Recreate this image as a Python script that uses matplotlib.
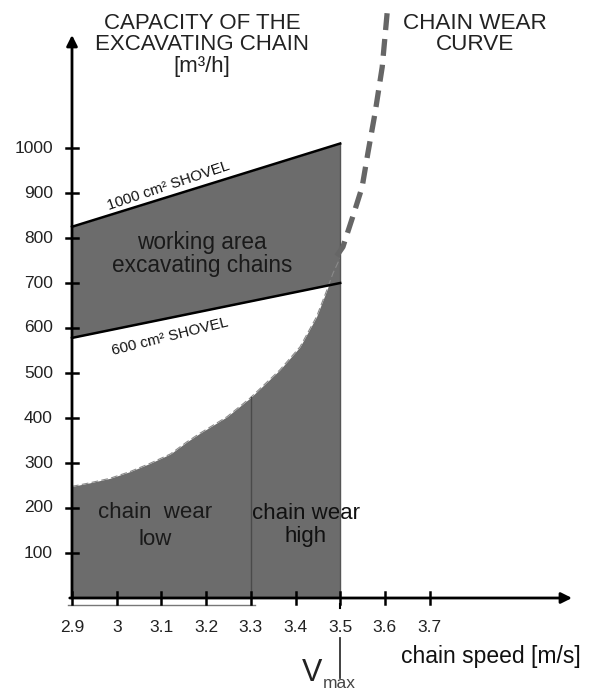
import matplotlib
matplotlib.use("Agg")
import matplotlib.pyplot as plt
import numpy as np

plt.rcParams['font.family'] = ['Liberation Sans', 'DejaVu Sans']

# ---- data ----
x_ticks = [2.9, 3.0, 3.1, 3.2, 3.3, 3.4, 3.5, 3.6, 3.7]
x_tick_labels = ['2.9', '3', '3.1', '3.2', '3.3', '3.4', '3.5', '3.6', '3.7']
y_ticks = [100, 200, 300, 400, 500, 600, 700, 800, 900, 1000]
y_tick_labels = ['100', '200', '300', '400', '500', '600', '700', '800', '900', '1000']

shovel_speed = [2.9, 3.5]
shovel_1000_capacity = [825, 1010]
shovel_600_capacity = [578, 700]

wear_speed = [2.9, 2.94, 2.985, 3.03, 3.074, 3.12, 3.157, 3.186, 3.247, 3.298,
              3.365, 3.41, 3.447, 3.47, 3.484, 3.5]
wear_capacity = [248, 256, 266, 281, 299, 320, 347, 366, 403, 444,
                 507, 558, 625, 684, 722, 756]

wear_dash_speed = [3.492, 3.506, 3.528, 3.549, 3.562, 3.578, 3.594, 3.605]
wear_dash_capacity = [760, 780, 847, 913, 989, 1078, 1180, 1300]

v_low_high = 3.3
v_max = 3.5
v_start = 2.9

# ---- figure ----
W, H = 595, 691
fig = plt.figure(figsize=(W / 100, H / 100), dpi=100)
ax = fig.add_axes([0, 0, 1, 1])
# pixel mapping: x_px = 72 + (x-2.9)*447 ; y_px(from top) = 598 - v*0.45
ax.set_xlim(2.9 - 72 / 447, 2.9 + (W - 72) / 447)
ax.set_ylim((598 - H) / 0.45, 598 / 0.45)
ax.axis('off')


def px(xp):
    return 2.9 + (xp - 72) / 447


def py(yp):
    return (598 - yp) / 0.45


fill_c = '#6c6c6c'

# working area between shovel lines
ax.fill_between(shovel_speed, shovel_600_capacity, shovel_1000_capacity,
                color=fill_c, lw=0, zorder=1)
# area under wear curve
ax.fill_between(wear_speed, 0, wear_capacity, color=fill_c, lw=0, zorder=1)
# faint dashed edge of the wear curve
ax.plot(wear_speed, wear_capacity, color='#8a8a8a', lw=0.8, dashes=(6, 3), zorder=2)

# shovel lines
ax.plot(shovel_speed, shovel_1000_capacity, color='black', lw=1.8, zorder=3)
ax.plot(shovel_speed, shovel_600_capacity, color='black', lw=1.8, zorder=3)

# right edge of area at vmax
ax.plot([v_max, v_max], [0, shovel_1000_capacity[1]], color='#555555', lw=1.0, zorder=2)

# separator at 3.3
ax.plot([v_low_high, v_low_high], [0, np.interp(v_low_high, wear_speed, wear_capacity)],
        color='#4a4a4a', lw=1.0, zorder=2)

# dashed wear curve continuation
ax.plot(wear_dash_speed, wear_dash_capacity, color='#666666', lw=3.8,
        dashes=(3.2, 1.7), zorder=3, dash_capstyle='butt')

# axes with arrows
y_top = py(35)
x_right = px(572)
ax.annotate('', xy=(v_start, y_top), xytext=(v_start, 0),
            arrowprops=dict(arrowstyle='-|>', color='black', lw=2.0,
                            mutation_scale=16, shrinkA=0, shrinkB=0), zorder=4)
ax.annotate('', xy=(x_right, 0), xytext=(v_start - 0.005, 0),
            arrowprops=dict(arrowstyle='-|>', color='black', lw=2.0,
                            mutation_scale=16, shrinkA=0, shrinkB=0), zorder=4)

# thin line below x axis
ax.plot([2.89, 3.31], [-16, -16], color='#777777', lw=1.0, zorder=2)

# y ticks
for v, lab in zip(y_ticks, y_tick_labels):
    ax.plot([v_start - 6 / 447, v_start + 6 / 447], [v, v], color='black', lw=1.8, zorder=4)
    ax.text(px(53), v, lab, ha='right', va='center', fontsize=12.5, color='#222222')

# x ticks
for x, lab in zip(x_ticks, x_tick_labels):
    ax.plot([x, x], [-14, 14], color='black', lw=1.8, zorder=4)
    ax.text(x, py(628), lab, ha='center', va='center', fontsize=12.5, color='#222222')

# vmax marker
ax.plot([v_max, v_max], [-14, -22], color='black', lw=1.5, zorder=4)
ax.plot([v_max, v_max], [py(638), py(678)], color='#333333', lw=1.3)
ax.text(px(312), py(673), 'V', ha='center', va='center', fontsize=22, color='#222222')
ax.text(px(339), py(683), 'max', ha='center', va='center', fontsize=12.5, color='#444444')

ax.text(px(491), py(657), 'chain speed [m/s]', ha='center',
        va='center', fontsize=16.5, color='#111111')

# titles
ax.text(px(202), py(45), 'CAPACITY OF THE\nEXCAVATING CHAIN\n[m³/h]',
        ha='center', va='center', fontsize=16, color='#222222', linespacing=1.03)
ax.text(px(475), py(34), 'CHAIN WEAR\nCURVE',
        ha='center', va='center', fontsize=16.2, color='#222222', linespacing=0.98)

# region labels
ax.text(px(202), py(254), 'working area\nexcavating chains',
        ha='center', va='center', fontsize=16.3, color='#1a1a1a', linespacing=0.97)
ax.text(px(155), py(526), 'chain  wear\nlow',
        ha='center', va='center', fontsize=16, color='#1a1a1a', linespacing=1.42)
ax.text(px(306), py(525), 'chain wear\nhigh',
        ha='center', va='center', fontsize=16, color='#111111', linespacing=1.17)

# shovel labels (rotated along the lines)
ax.text(px(168), py(186), '1000 cm² SHOVEL', ha='center', va='center',
        fontsize=10.8, rotation=18.5, rotation_mode='anchor', color='#111111')
ax.text(px(170), py(337), '600 cm² SHOVEL', ha='center', va='center',
        fontsize=10.8, rotation=14, rotation_mode='anchor', color='#111111')

fig.savefig('out.png', dpi=100, facecolor='white')
